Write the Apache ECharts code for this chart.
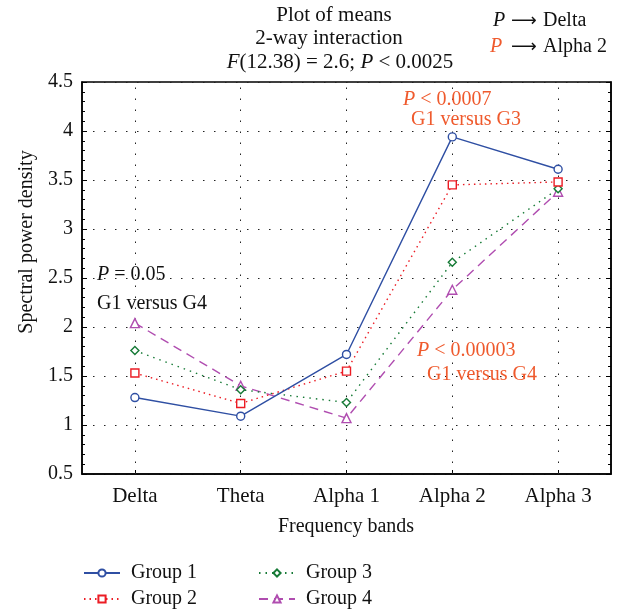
<!DOCTYPE html>
<html>
<head>
<meta charset="utf-8">
<script src="https://cdn.jsdelivr.net/npm/echarts@6/dist/echarts.min.js"></script>
<style>
html,body{margin:0;padding:0;background:#fff;}
#chart{width:620px;height:611px;}
</style>
</head>
<body>
<div id="chart"></div>
<script>
// ---- data ----
const categories = ['Delta', 'Theta', 'Alpha 1', 'Alpha 2', 'Alpha 3'];
const group1 = [1.28, 1.09, 1.72, 3.94, 3.61];
const group2 = [1.53, 1.22, 1.55, 3.45, 3.48];
const group3 = [1.76, 1.36, 1.23, 2.66, 3.41];
const group4 = [2.04, 1.40, 1.07, 2.38, 3.38];
const seriesNames = ['Group 1', 'Group 2', 'Group 3', 'Group 4'];
const yMin = 0.5, yMax = 4.5, yStep = 0.5;

const FONT = 'Liberation Serif';
const ORANGE = '#ef5a2d';
const C1 = '#2f4fa3', C2 = '#ec1c24', C3 = '#167a36', C4 = '#b04db0';

const chart = echarts.init(document.getElementById('chart'), null, {renderer: 'canvas'});

const dotted = {type: [1.5, 9.5], color: '#222', width: 1};

function txt(x, y, text, opts) {
  opts = opts || {};
  return {
    type: 'text', x: x, y: y, rotation: opts.rotation || 0, z: 100,
    style: {
      text: text,
      fill: opts.color || '#111',
      fontFamily: opts.family || FONT,
      fontSize: opts.size || 20,
      align: opts.align || 'left',
      verticalAlign: 'middle',
      rich: {
        i: {fontStyle: 'italic', fontFamily: opts.family || FONT, fontSize: opts.size || 20, fill: opts.color || '#111'}
      }
    }
  };
}

const yAxisCommon = {
  type: 'value', min: yMin, max: yMax, interval: yStep,
  axisLine: {show: true, lineStyle: {color: '#000', width: 1.5}},
  axisTick: {show: true, inside: true, length: 5, lineStyle: {color: '#000'}},
  minorTick: {show: true, splitNumber: 5, length: 3, lineStyle: {color: '#000'}}
};

const legendCommon = {
  orient: 'vertical', top: 563, padding: 0, height: 48,
  itemWidth: 36, itemHeight: 9, itemGap: 6,
  textStyle: {fontFamily: FONT, fontSize: 20, lineHeight: 20, color: '#111', padding: [0, 0, 0, 6]}
};

const option = {
  animation: false,
  backgroundColor: '#fff',
  grid: {left: 82, right: 9, top: 82, bottom: 137, show: true, borderColor: '#000', borderWidth: 1.5, backgroundColor: 'transparent'},
  legend: [
    Object.assign({}, legendCommon, {data: ['Group 1', 'Group 2'], left: 83}),
    Object.assign({}, legendCommon, {data: ['Group 3', 'Group 4'], left: 258})
  ],
  xAxis: {
    type: 'category', data: categories, boundaryGap: true,
    axisLine: {show: true, lineStyle: {color: '#000', width: 1.5}},
    axisTick: {show: true, inside: true, alignWithLabel: true, length: 4, lineStyle: {color: '#000'}},
    axisLabel: {fontFamily: FONT, fontSize: 21, color: '#111', margin: 12},
    splitLine: {show: false}
  },
  yAxis: [
    Object.assign({}, yAxisCommon, {
      position: 'left',
      axisLabel: {fontFamily: FONT, fontSize: 20, color: '#111', margin: 9},
      splitLine: {show: true, lineStyle: dotted}
    }),
    Object.assign({}, yAxisCommon, {
      position: 'right',
      axisLabel: {show: false},
      splitLine: {show: false}
    })
  ],
  series: [
    {
      name: seriesNames[0], type: 'line', data: group1, z: 5,
      symbol: 'circle', symbolSize: 8,
      lineStyle: {color: C1, width: 1.4, type: 'solid'},
      itemStyle: {color: '#fff', borderColor: C1, borderWidth: 1.4},
      markLine: {
        silent: true, symbol: ['none', 'none'], label: {show: false},
        lineStyle: dotted, z: 1,
        data: categories.map(c => ({xAxis: c}))
      }
    },
    {
      name: seriesNames[1], type: 'line', data: group2, z: 4,
      symbol: 'rect', symbolSize: 8,
      lineStyle: {color: C2, width: 1.4, type: [1.5, 4]},
      itemStyle: {color: '#fff', borderColor: C2, borderWidth: 1.4}
    },
    {
      name: seriesNames[2], type: 'line', data: group3, z: 3,
      symbol: 'diamond', symbolSize: 8,
      lineStyle: {color: C3, width: 1.4, type: [1.5, 5]},
      itemStyle: {color: '#fff', borderColor: C3, borderWidth: 1.4}
    },
    {
      name: seriesNames[3], type: 'line', data: group4, z: 2,
      symbol: 'triangle', symbolSize: 9,
      lineStyle: {color: C4, width: 1.4, type: [9, 6]},
      itemStyle: {color: '#fff', borderColor: C4, borderWidth: 1.4}
    }
  ],
  graphic: [
    txt(334, 15, 'Plot of means', {align: 'center', size: 21}),
    txt(329, 38, '2-way interaction', {align: 'center', size: 21}),
    txt(340, 62, '{i|F}(12.38) = 2.6; {i|P} < 0.0025', {align: 'center', size: 21}),
    txt(493, 21, '{i|P}'),
    txt(511, 21, '\u27F6', {family: 'DejaVu Sans', size: 18}),
    txt(543, 21, 'Delta'),
    txt(490, 47, '{i|P}', {color: ORANGE}),
    txt(511, 47, '\u27F6', {family: 'DejaVu Sans', size: 18}),
    txt(543, 47, 'Alpha 2'),
    txt(403, 100, '{i|P} < 0.0007', {color: ORANGE}),
    txt(411, 120, 'G1 versus G3', {color: ORANGE}),
    txt(97, 275, '{i|P} = 0.05'),
    txt(97, 304, 'G1 versus G4'),
    txt(417, 351, '{i|P} < 0.00003', {color: ORANGE}),
    txt(427, 375, 'G1 versus G4', {color: ORANGE}),
    txt(27, 242, 'Spectral power density', {align: 'center', rotation: Math.PI / 2}),
    txt(346, 527, 'Frequency bands', {align: 'center'})
  ]
};

chart.setOption(option);
</script>
</body>
</html>
